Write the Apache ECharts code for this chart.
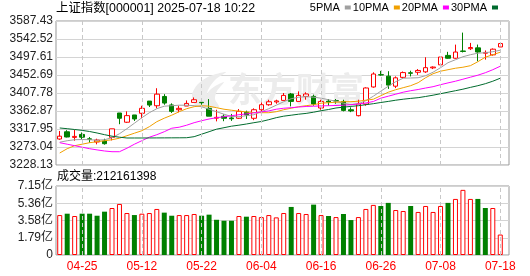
<!DOCTYPE html>
<html>
<head>
<meta charset="utf-8">
<script src="https://cdn.jsdelivr.net/npm/echarts@6/dist/echarts.min.js"></script>
<style>
  html, body { margin: 0; padding: 0; background: #fff; }
  #chart { width: 530px; height: 276px; }
</style>
</head>
<body>
<div id="chart"></div>
<script>
// 日期 (交易日)
const dates = [
  '04-22', '04-23', '04-24', '04-25', '04-28', '04-29', '04-30',
  '05-06', '05-07', '05-08', '05-09', '05-12', '05-13', '05-14', '05-15', '05-16',
  '05-19', '05-20', '05-21', '05-22', '05-23', '05-26', '05-27', '05-28', '05-29', '05-30',
  '06-03', '06-04', '06-05', '06-06', '06-09', '06-10', '06-11', '06-12', '06-13',
  '06-16', '06-17', '06-18', '06-19', '06-20', '06-23', '06-24', '06-25', '06-26', '06-27', '06-30',
  '07-01', '07-02', '07-03', '07-04', '07-07', '07-08', '07-09', '07-10', '07-11',
  '07-14', '07-15', '07-16', '07-17', '07-18'
];
const tickDates = ['04-25', '05-12', '05-22', '06-04', '06-16', '06-26', '07-08', '07-18'];

// 价格轴刻度
const priceTicks = ['3228.13', '3273.04', '3317.95', '3362.87', '3407.78', '3452.69', '3497.61', '3542.52', '3587.43'];
const priceMin = 3228.13;
const priceMax = 3587.43;
// 成交量轴刻度
const volTicks = ['0', '1.79亿', '3.58亿', '5.36亿', '7.15亿'];
const volMax = 7.15;

// K线
const opens = [3293, 3311, 3297, 3304.4, 3293.5, 3285.5, 3287.9, 3297, 3357.9, 3334.9,
  3353, 3357.1, 3387.6, 3376, 3399.1, 3378, 3366, 3375.2, 3384.3, 3384.5,
  3369.5, 3345, 3349.7, 3345.5, 3344.7, 3359.6, 3344.7, 3366, 3378.5, 3385.5,
  3389.3, 3405.3, 3386.8, 3399.3, 3399.3, 3370.3, 3387.5, 3388.6, 3386.8, 3366,
  3351.2, 3380, 3422.8, 3453.5, 3449.8, 3424.8, 3446.8, 3458.2, 3459.5, 3460.5,
  3470.5, 3478, 3501.6, 3494.5, 3512.6, 3518.3, 3520.4, 3507, 3503, 3522.6];
const closes = [3300, 3298, 3299.5, 3297.5, 3292, 3290.4, 3281.3, 3318.4, 3344.7, 3351.3,
  3343, 3369.5, 3377.7, 3404.9, 3382.7, 3362, 3369.5, 3381.8, 3390.9, 3383.5,
  3350, 3347, 3344.7, 3343.5, 3362, 3353, 3366, 3378.5, 3385.9, 3388,
  3401.8, 3386.8, 3401.8, 3405.3, 3380.3, 3386.8, 3385.5, 3388, 3364.4, 3363,
  3380.3, 3420.3, 3455.2, 3452.7, 3427.5, 3445.6, 3458.7, 3457, 3464, 3471,
  3472.5, 3497.6, 3494.5, 3510, 3511.6, 3521.3, 3510, 3509, 3517.1, 3531.2];
const lows = [3291, 3297, 3288.7, 3292.8, 3283.8, 3279.7, 3278.9, 3289.5, 3329.9, 3333.2,
  3338, 3344.7, 3372.8, 3369.5, 3378.5, 3358, 3359.6, 3375.2, 3384.3, 3378.5,
  3350, 3337, 3337.4, 3338.2, 3343, 3343, 3340, 3362, 3376, 3381,
  3389.3, 3374.4, 3386.8, 3391, 3376, 3366, 3376, 3381, 3361.9, 3360,
  3349.4, 3376, 3421, 3451, 3418, 3420, 3444.7, 3449.2, 3453, 3458,
  3467.5, 3476, 3493.4, 3493.4, 3509, 3515, 3487, 3491, 3501, 3522.6];
const highs = [3313, 3315, 3315.9, 3309.3, 3297.8, 3293.7, 3293.7, 3318.5, 3357.9, 3362,
  3353, 3376, 3387.6, 3419.7, 3404.9, 3382, 3376, 3389.3, 3396.7, 3392.5,
  3392.5, 3366, 3354.6, 3355.5, 3367.8, 3363.7, 3369.5, 3384.3, 3390.9, 3391,
  3407.8, 3407.8, 3411.8, 3409.5, 3403.6, 3391, 3392.8, 3392.8, 3391, 3372,
  3391, 3422, 3459.4, 3463, 3462.2, 3449.2, 3461.5, 3463.4, 3467.5, 3497,
  3474.2, 3499.6, 3510.5, 3528.5, 3558.5, 3532.8, 3528.6, 3514, 3519, 3533.3];

// 均线
const ma5 = [3285.0, 3288.7, 3291.2, 3291.7, 3291.2, 3290.0, 3291.2, 3296.2, 3306.2, 3318.7,
  3332.4, 3346.1, 3358.6, 3368.6, 3374.8, 3376.1, 3377.3, 3377.3, 3376.1, 3373.6,
  3367.3, 3361.1, 3354.9, 3349.1, 3348.6, 3351.1, 3353.6, 3361.1, 3368.6, 3377.3,
  3386.1, 3393.5, 3397.3, 3398.5, 3397.3, 3394.8, 3391.0, 3387.3, 3382.3, 3378.6,
  3381.1, 3388.5, 3399.8, 3412.3, 3424.7, 3436.0, 3444.7, 3445.2, 3445.9, 3450.9,
  3459.7, 3470.9, 3483.4, 3490.8, 3498.3, 3503.3, 3507.1, 3508.3, 3510.8, 3514.5];
const ma10 = [3258.1, 3268.8, 3276.3, 3280.0, 3283.8, 3286.2, 3288.7, 3291.2, 3295.0, 3301.2,
  3307.5, 3313.7, 3323.7, 3336.2, 3344.9, 3352.4, 3361.1, 3368.6, 3373.6, 3376.1,
  3374.8, 3371.1, 3367.3, 3364.8, 3362.4, 3360.6, 3359.1, 3358.6, 3358.6, 3361.1,
  3366.1, 3369.8, 3373.6, 3376.1, 3378.6, 3382.3, 3383.6, 3384.8, 3386.1, 3386.1,
  3387.3, 3389.8, 3392.3, 3401.0, 3409.8, 3416.0, 3421.0, 3426.0, 3433.5, 3445.9,
  3455.9, 3462.2, 3465.9, 3469.6, 3472.1, 3475.9, 3485.9, 3497.1, 3503.3, 3509.6];
const ma20 = [3283.8, 3280.0, 3276.3, 3272.6, 3268.8, 3265.8, 3263.1, 3261.3, 3261.3, 3270.0,
  3280.0, 3288.8, 3297.5, 3303.7, 3311.2, 3319.9, 3322.4, 3327.4, 3333.7, 3338.6,
  3342.9, 3346.1, 3348.6, 3351.1, 3353.6, 3355.6, 3358.1, 3360.6, 3363.1, 3367.3,
  3369.8, 3371.1, 3372.8, 3374.1, 3374.8, 3375.6, 3376.1, 3376.6, 3377.3, 3378.6,
  3380.6, 3382.8, 3386.6, 3394.8, 3399.8, 3404.8, 3409.8, 3413.5, 3416.5, 3420.2,
  3423.5, 3428.5, 3433.0, 3437.2, 3442.2, 3447.2, 3452.2, 3458.4, 3465.9, 3474.6];
const ma30 = [3320.5, 3318.7, 3316.7, 3314.5, 3311.7, 3308.0, 3303.8, 3300.0, 3297.5, 3295.5,
  3295.5, 3295.5, 3295.6, 3295.7, 3295.8, 3295.9, 3296.0, 3296.2, 3298.8, 3305.0,
  3311.2, 3317.5, 3321.2, 3325.0, 3327.5, 3330.4, 3333.7, 3336.7, 3341.2, 3346.2,
  3350.0, 3352.4, 3354.9, 3356.9, 3359.9, 3363.6, 3366.6, 3370.4, 3372.4, 3374.4,
  3376.1, 3378.6, 3381.1, 3384.1, 3386.8, 3389.8, 3392.3, 3394.3, 3396.1, 3399.1,
  3402.3, 3406.0, 3409.8, 3413.5, 3417.3, 3421.8, 3426.0, 3431.0, 3437.2, 3444.7];

// 成交量 (亿) 与涨跌 (1 = 涨, 0 = 跌)
const volumes = [4.14, 4.28, 4.04, 4.28, 4.28, 4.07, 4.49, 4.87, 5.29, 4.35,
  4.14, 4.28, 4.35, 4.77, 4.39, 4.07, 4.14, 4.14, 4.25, 4.07,
  4.18, 3.65, 3.55, 3.55, 4.04, 3.97, 4.04, 3.93, 4.14, 3.90,
  4.35, 4.98, 4.35, 4.25, 5.22, 4.14, 4.04, 3.93, 4.25, 3.62,
  3.93, 4.77, 5.19, 5.08, 5.40, 4.66, 4.56, 5.08, 4.46, 5.08,
  4.46, 5.08, 5.40, 5.81, 6.75, 5.81, 5.81, 4.87, 4.87, 2.12];
const volUp = [1, 0, 1, 0, 0, 0, 0, 1, 1, 1,
  0, 1, 1, 1, 0, 0, 1, 1, 1, 0,
  0, 0, 0, 0, 1, 0, 1, 1, 1, 1,
  1, 0, 1, 1, 0, 1, 0, 1, 0, 0,
  1, 1, 1, 0, 0, 1, 1, 0, 1, 1,
  1, 1, 0, 1, 1, 1, 0, 0, 1, 1];

const RED = '#ff0000';
const GREEN = '#008000';
const FONT = "'Liberation Sans', 'Noto Sans CJK SC', sans-serif";

const chart = echarts.init(document.getElementById('chart'), null, { renderer: 'canvas' });

const vLines = {
    silent: true,
    symbol: 'none',
    animation: false,
    label: { show: false },
    lineStyle: { color: '#c8c8c8', type: [4, 3], width: 1 },
    data: tickDates.map(d => ({ xAxis: d }))
};

function maSeries(name, data, color) {
    return {
        name: name,
        type: 'line',
        xAxisIndex: 1,
        yAxisIndex: 1,
        data: data,
        showSymbol: false,
        symbol: 'none',
        color: color,
        lineStyle: { width: 1, color: color },
        z: 4
    };
}

var option = {
    animation: false,
    title: [{
        text: '上证指数[000001] 2025-07-18 10:22',
        left: 56,
        top: 2,
        padding: 0,
        textStyle: { fontSize: 12.4, fontWeight: 'normal', color: '#000', fontFamily: FONT }
    }, {
        text: '成交量:212161398',
        left: 57,
        top: 171,
        padding: 0,
        textStyle: { fontSize: 12, fontWeight: 'normal', color: '#000', fontFamily: FONT }
    }],
    legend: {
        data: ['5PMA', '10PMA', '20PMA', '30PMA'],
        right: 32,
        top: 2,
        padding: 0,
        icon: 'rect',
        itemWidth: 6,
        itemHeight: 4,
        itemGap: 2,
        align: 'right',
        textStyle: { fontSize: 11, color: '#000', fontFamily: FONT }
    },
    graphic: [{
        // 水印
        type: 'polygon',
        z: 1,
        silent: true,
        shape: { points: [[196, 106], [192, 95], [198, 84], [210, 76], [226, 72], [215, 80], [208, 90], [207, 99], [211, 106]], smooth: 0.3 },
        style: { fill: '#ececec' }
    }, {
        type: 'polygon',
        z: 1,
        silent: true,
        shape: { points: [[206, 107], [205, 98], [211, 89], [224, 82], [217, 91], [215, 99], [219, 107]], smooth: 0.3 },
        style: { fill: '#ececec' }
    }, {
        type: 'text',
        left: 228,
        top: 72,
        z: 1,
        silent: true,
        style: {
            text: '东方财富',
            fontSize: 34,
            fontWeight: 'bold',
            fontFamily: "'Noto Sans CJK SC'",
            fill: '#ececec'
        }
    }],
    grid: [
        { left: 56, top: 21, width: 453, height: 144, show: true, borderColor: '#999', borderWidth: 1, backgroundColor: 'transparent' },
        { left: 56, top: 21, width: 448, height: 144 },
        { left: 56, top: 186, width: 453, height: 69, show: true, borderColor: '#999', borderWidth: 1, backgroundColor: 'transparent' },
        { left: 56, top: 186, width: 448, height: 69 }
    ],
    xAxis: [
        { gridIndex: 0, type: 'value', min: 0, max: 1, show: false },
        { gridIndex: 1, type: 'category', data: dates, boundaryGap: true, show: false },
        { gridIndex: 2, type: 'value', min: 0, max: 1, show: false },
        {
            gridIndex: 3,
            type: 'category',
            data: dates,
            boundaryGap: true,
            axisLine: { show: false },
            axisTick: { show: false },
            splitLine: { show: false },
            axisLabel: {
                interval: (i, v) => tickDates.indexOf(v) >= 0,
                color: RED,
                fontSize: 12,
                fontFamily: FONT,
                margin: 6
            }
        }
    ],
    yAxis: [
        {
            gridIndex: 0, type: 'value', min: 0, max: 8, interval: 1,
            axisLine: { show: false }, axisTick: { show: false },
            axisLabel: { formatter: v => priceTicks[v], color: '#222', fontSize: 12, fontFamily: FONT, margin: 3 },
            splitLine: { lineStyle: { color: '#d4d4d4', width: 1 } }
        },
        { gridIndex: 1, type: 'value', min: priceMin, max: priceMax, show: false, splitLine: { show: false } },
        {
            gridIndex: 2, type: 'value', min: 0, max: 4, interval: 1,
            axisLine: { show: false }, axisTick: { show: false },
            axisLabel: { formatter: v => volTicks[v], color: '#222', fontSize: 12, fontFamily: FONT, margin: 3 },
            splitLine: { lineStyle: { color: '#d4d4d4', width: 1 } }
        },
        { gridIndex: 3, type: 'value', min: 0, max: volMax, show: false, splitLine: { show: false } }
    ],
    series: [
        {
            name: 'K线',
            type: 'candlestick',
            xAxisIndex: 1,
            yAxisIndex: 1,
            barWidth: 5,
            data: dates.map((d, i) => [opens[i], closes[i], lows[i], highs[i]]),
            itemStyle: {
                color: '#fff',
                color0: GREEN,
                borderColor: RED,
                borderColor0: GREEN,
                borderWidth: 1
            },
            markLine: vLines,
            z: 3
        },
        maSeries('5PMA', ma5, '#a0a0a0'),
        maSeries('10PMA', ma10, '#f0a000'),
        maSeries('20PMA', ma20, '#ff00ff'),
        maSeries('30PMA', ma30, '#006b2e'),
        {
            name: '成交量',
            type: 'bar',
            xAxisIndex: 3,
            yAxisIndex: 3,
            barWidth: 5,
            data: volumes.map((v, i) => ({
                value: v,
                itemStyle: volUp[i]
                    ? { color: '#fff', borderColor: RED, borderWidth: 1 }
                    : { color: GREEN, borderColor: GREEN, borderWidth: 0 }
            })),
            markLine: vLines
        }
    ]
};

chart.setOption(option);
</script>
</body>
</html>
